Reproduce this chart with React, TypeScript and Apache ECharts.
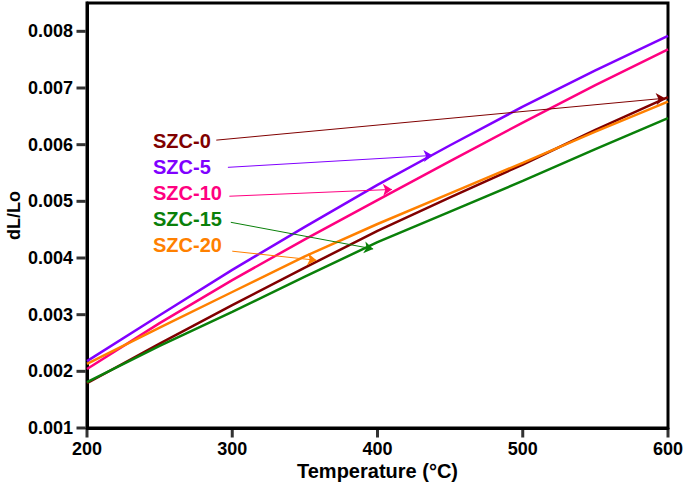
import React, { useEffect, useRef } from "react";
import * as echarts from "echarts";

const temps = [200, 250, 300, 350, 400, 450, 500, 550, 600];
const szc0 = [0.00179, 0.00249, 0.00317, 0.00383, 0.00448, 0.00507, 0.00565, 0.00626, 0.00684];
const szc5 = [0.00218, 0.00299, 0.00379, 0.00455, 0.00529, 0.00599, 0.00667, 0.00731, 0.00792];
const szc10 = [0.00204, 0.00285, 0.00361, 0.00433, 0.00502, 0.00571, 0.00639, 0.00705, 0.00768];
const szc15 = [0.00181, 0.00245, 0.00305, 0.00367, 0.00428, 0.00482, 0.00536, 0.00592, 0.00647];
const szc20 = [0.00213, 0.00277, 0.0034, 0.00403, 0.0046, 0.00514, 0.00568, 0.00623, 0.00676];

const names = ["SZC-0", "SZC-5", "SZC-10", "SZC-15", "SZC-20"];
const colors = ["#800000", "#8000ff", "#ff0080", "#0a800a", "#ff8000"];
// arrow annotations: [startT, startV, endT, endV]
const arrows = [
  [289, 0.00608, 598, 0.00682],
  [297, 0.0056, 438, 0.00581],
  [298, 0.00509, 410, 0.00521],
  [299, 0.00463, 397, 0.00416],
  [300, 0.00412, 358, 0.00396],
];
const labelY = [141, 167, 193, 219, 245];
const yTicks = [0.001, 0.002, 0.003, 0.004, 0.005, 0.006, 0.007, 0.008];
const xTicks = [200, 300, 400, 500, 600];

const FONT = "'Liberation Sans', Arial, sans-serif";

export default function App() {
  const ref = useRef<HTMLDivElement>(null);
  useEffect(() => {
    if (!ref.current) return;
    const chart = echarts.init(ref.current, undefined, { renderer: "svg" });
    const all = [szc0, szc5, szc10, szc15, szc20];
    const series: any[] = all.map((vals, i) => ({
      name: names[i],
      type: "line",
      data: temps.map((t, j) => [t, vals[j]]),
      showSymbol: false,
      symbol: "none",
      lineStyle: { color: colors[i], width: 2.5 },
      itemStyle: { color: colors[i] },
      z: 3,
      markLine: {
        silent: true,
        symbol: ["none", "arrow"],
        symbolSize: 9,
        label: { show: false },
        lineStyle: { color: colors[i], width: 1, type: "solid" },
        emphasis: { disabled: true },
        data: [
          [
            { coord: [arrows[i][0], arrows[i][1]] },
            { coord: [arrows[i][2], arrows[i][3]] },
          ],
        ],
      },
    }));
    // outward tick marks, placed through the axes' scales
    series.push({
      type: "scatter",
      silent: true,
      clip: false,
      z: 5,
      symbol: "rect",
      symbolSize: [9, 3],
      symbolOffset: [-6, 0],
      itemStyle: { color: "#000" },
      data: yTicks.map((v) => [200, v]),
    });
    series.push({
      type: "scatter",
      silent: true,
      clip: false,
      z: 5,
      symbol: "rect",
      symbolSize: [3, 8],
      symbolOffset: [0, 5.5],
      itemStyle: { color: "#000" },
      data: xTicks.map((t) => [t, 0.001]),
    });
    chart.setOption({
      animation: false,
      backgroundColor: "#ffffff",
      tooltip: { show: false },
      grid: {
        left: 87,
        right: 17,
        top: 3,
        bottom: 57,
        show: true,
        borderColor: "#000",
        borderWidth: 3,
        containLabel: false,
        outerBoundsMode: "none",
      },
      xAxis: {
        type: "value",
        min: 200,
        max: 600,
        interval: 100,
        name: "Temperature (°C)",
        nameLocation: "middle",
        nameGap: 33,
        nameMoveOverlap: false,
        nameTextStyle: { fontFamily: FONT, fontWeight: "bold", fontSize: 20, color: "#000" },
        axisLine: { show: true, lineStyle: { color: "#000", width: 3 } },
        axisTick: { show: false },
        axisLabel: { fontFamily: FONT, fontWeight: "bold", fontSize: 18, color: "#000", margin: 12 },
        splitLine: { show: false },
      },
      yAxis: {
        type: "value",
        min: 0.001,
        max: 0.0085,
        interval: 0.001,
        name: "dL/Lo",
        nameLocation: "middle",
        nameGap: 64,
        nameMoveOverlap: false,
        nameTextStyle: { fontFamily: FONT, fontWeight: "bold", fontSize: 18, color: "#000" },
        axisLine: { show: true, lineStyle: { color: "#000", width: 3 } },
        axisTick: { show: false },
        axisLabel: {
          fontFamily: FONT,
          fontWeight: "bold",
          fontSize: 18,
          color: "#000",
          margin: 14,
          customValues: yTicks,
          formatter: (v: number) => v.toFixed(3),
        },
        splitLine: { show: false },
      },
      graphic: names.map((n, i) => ({
        type: "text",
        left: 153,
        top: labelY[i] - 10,
        z: 10,
        style: {
          text: n,
          fill: colors[i],
          font: `bold 20px ${FONT}`,
        },
      })),
      series,
    });
    return () => chart.dispose();
  }, []);
  return <div ref={ref} style={{ width: 685, height: 485, position: "absolute", left: 0, top: 0 }} />;
}
